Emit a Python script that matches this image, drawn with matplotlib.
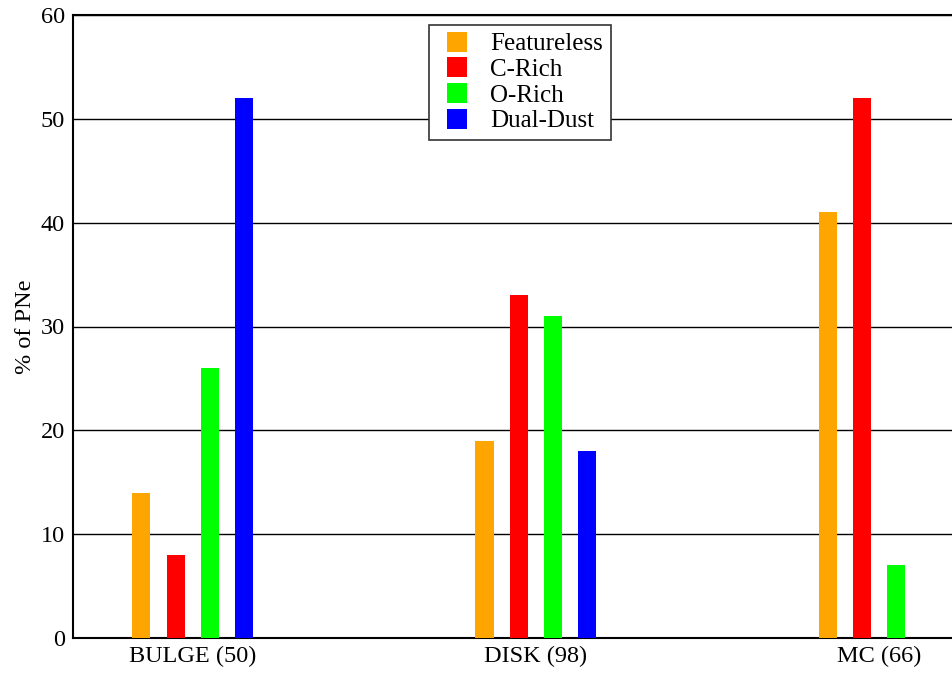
import numpy as np
import matplotlib.pyplot as plt
from matplotlib.lines import Line2D

plt.rcParams['font.family'] = ['Liberation Serif', 'DejaVu Serif']

groups = ['BULGE (50)', 'DISK (98)', 'MC (66)']
series = ['Featureless', 'C-Rich', 'O-Rich', 'Dual-Dust']
values = {
    'Featureless': [14, 19, 41],
    'C-Rich': [8, 33, 52],
    'O-Rich': [26, 31, 7],
    'Dual-Dust': [52, 18, 0],
}
colors = ['#ffa500', '#ff0000', '#00ff00', '#0000ff']

fig = plt.figure(figsize=(9.53, 6.73), dpi=100)
ax = fig.add_axes([73 / 953, 35 / 673, 1 - 73 / 953 + 0.002, 623 / 673])

x = np.arange(len(groups))
step = 0.1
width = 0.053
for i, (name, c) in enumerate(zip(series, colors)):
    ax.bar(x + (i - 1.5) * step, values[name], width, color=c, label=name, zorder=3)

ax.set_ylim(0, 60)
ax.set_xlim(-0.349, 2.221)
ax.set_xticks(x)
ax.set_xticklabels(groups)
ax.set_yticks(range(0, 61, 10))
ax.tick_params(length=0, labelsize=17.5, pad=6)
ax.yaxis.grid(True, color='black', lw=1, zorder=0)
ax.set_ylabel('% of PNe', fontsize=17.5, labelpad=3)
for s in ['left', 'top', 'bottom']:
    ax.spines[s].set_linewidth(1.5)
ax.spines['right'].set_visible(False)

# square markers centred in the handle box, like the original key
handles = [Line2D([], [], ls='none', marker='s', markersize=13.7,
                  markerfacecolor=c, markeredgewidth=0) for c in colors]
leg = ax.legend(handles, series, loc='upper left',
                bbox_to_anchor=((428 - 73) / 880, 1 - 10 / 623),
                borderaxespad=0, fontsize=18,
                handlelength=1.62, handletextpad=0.5,
                labelspacing=0.125, borderpad=0.32, frameon=True, fancybox=False,
                edgecolor='#333333', framealpha=1)
leg.get_frame().set_linewidth(1.2)
leg.set_zorder(5)

fig.savefig('out.png', dpi=100)
